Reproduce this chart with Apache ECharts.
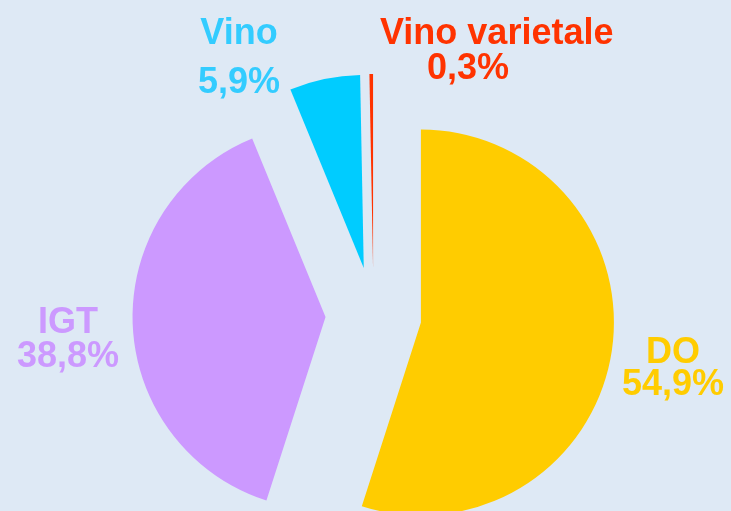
<!DOCTYPE html>
<html>
<head>
<meta charset="utf-8">
<script src="https://cdn.jsdelivr.net/npm/echarts@6/dist/echarts.min.js"></script>
<style>
html,body{margin:0;padding:0;background:#dee9f5;}
#chart{width:731px;height:511px;}
</style>
</head>
<body>
<div id="chart"></div>
<script>
// Data
var categories = ['DO', 'IGT', 'Vino', 'Vino varietale'];
var values = [54.9, 38.8, 5.9, 0.3];

// Styles (kept separate from data)
var sliceColors = ['#FFCC00', '#CC99FF', '#00CCFF', '#FF3300'];
var labelColors = ['#FFCC00', '#CC99FF', '#33CCFF', '#FF3300'];
var labelAnchors = [
  {x: 673, y: 337, align: 'center', lh: 32, pad: 0},
  {x: 68,  y: 306, align: 'center', lh: 34, pad: 0},
  {x: 239, y: 10,  align: 'center', lh: 49, pad: 0},
  {x: 380, y: 17,  align: 'left',   lh: 35, pad: 47}
];

var chart = echarts.init(document.getElementById('chart'), null, {renderer: 'canvas'});

var FONT = 'Liberation Sans, Arial, sans-serif';

var sliceData = categories.map(function (name, i) {
  return {name: name, value: values[i], selected: true, itemStyle: {color: sliceColors[i]}};
});

var labelData = categories.map(function (name, i) {
  var a = labelAnchors[i];
  return {
    name: name,
    value: values[i],
    itemStyle: {color: 'rgba(0,0,0,0)'},
    label: {
      color: labelColors[i],
      rich: {
        n: {fontSize: 36, fontWeight: 'bold', fontFamily: FONT, color: labelColors[i], lineHeight: a.lh},
        v: {fontSize: 36, fontWeight: 'bold', fontFamily: FONT, color: labelColors[i], lineHeight: a.lh, padding: [0, 0, 0, a.pad]}
      }
    }
  };
});

chart.setOption({
  backgroundColor: '#dee9f5',
  animation: false,
  series: [{
    type: 'pie',
    center: [373.5, 315],
    radius: [0, 193],
    startAngle: 90,
    clockwise: true,
    selectedMode: 'multiple',
    selectedOffset: 48,
    itemStyle: {borderWidth: 0},
    select: {itemStyle: {borderWidth: 0}},
    emphasis: {disabled: true},
    label: {show: false},
    labelLine: {show: false},
    data: sliceData
  }, {
    type: 'pie',
    silent: true,
    center: [373.5, 315],
    radius: [0, 193],
    startAngle: 90,
    clockwise: true,
    selectedMode: false,
    avoidLabelOverlap: false,
    emphasis: {disabled: true},
    itemStyle: {borderWidth: 0},
    labelLine: {show: false},
    label: {
      show: true,
      position: 'outside',
      fontSize: 36,
      fontWeight: 'bold',
      fontFamily: FONT,
      formatter: function (p) {
        return '{n|' + p.name + '}\n{v|' + p.value.toFixed(1).replace('.', ',') + '%}';
      }
    },
    labelLayout: function (params) {
      var a = labelAnchors[params.dataIndex];
      return {x: a.x, y: a.y, align: a.align, verticalAlign: 'top'};
    },
    data: labelData
  }]
});
</script>
</body>
</html>
